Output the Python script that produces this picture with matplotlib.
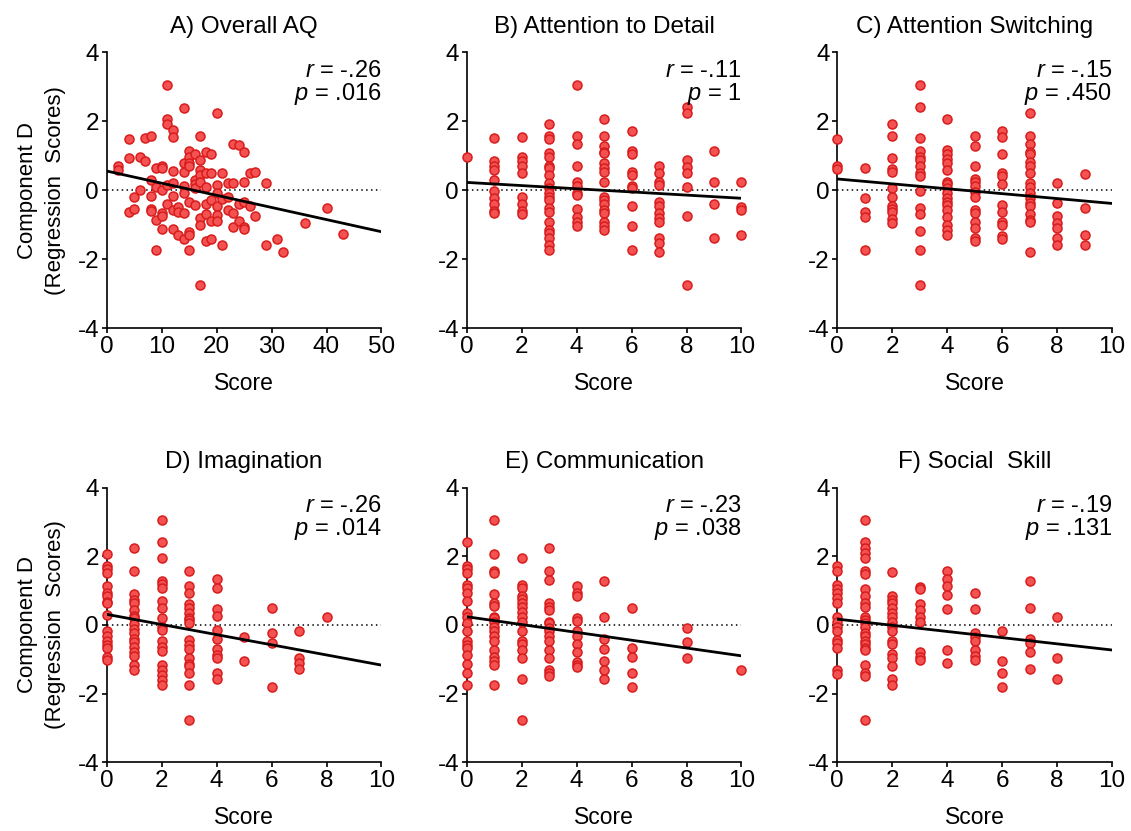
import numpy as np
import matplotlib
matplotlib.use("Agg")
from matplotlib import pyplot as plt

plt.rcParams['font.family'] = ['Liberation Sans', 'DejaVu Sans']
plt.rcParams['mathtext.fontset'] = 'custom'
plt.rcParams['mathtext.it'] = 'Liberation Sans:italic'
plt.rcParams['mathtext.rm'] = 'Liberation Sans'
plt.rcParams['axes.unicode_minus'] = False

# A) Overall AQ - continuous scores
a_x = [2, 2, 4, 4, 4, 5, 5, 6, 6, 7, 7, 8, 8, 8, 8, 8, 9, 9, 9, 9,
       10, 10, 10, 10, 10, 10, 11, 11, 11, 11, 11, 12, 12, 12, 12, 12, 12, 12,
       13, 13, 13, 14, 14, 14, 14, 14, 14, 14, 15, 15, 15, 15, 15, 15, 15, 15,
       16, 16, 16, 16, 16, 17, 17, 17, 17, 17, 17, 17, 17, 18, 18, 18, 18, 18, 18,
       19, 19, 19, 19, 19, 20, 20, 20, 20, 20, 20, 21, 21, 21, 22, 22, 22,
       23, 23, 23, 23, 24, 24, 24, 25, 25, 25, 25, 25, 26, 26, 27, 27,
       29, 29, 31, 32, 36, 40, 43]
a_y = [0.7, 0.6, 1.5, 0.95, -0.64, -0.2, -0.55, 0.97, 0.0, 1.52, 0.84, 1.58, 0.3, -0.17, -0.53, -0.6,
       -1.73, -0.86, 0.65, 0.1,
       0.7, 0.65, 0.0, -0.65, -0.75, -1.13, 3.06, 2.07, 1.92, 0.15, -0.4,
       1.75, 1.55, 0.55, 0.22, -0.17, -0.57, -1.13,
       -0.47, -0.64, -1.3, 2.4, 0.78, 0.52, 0.13, -0.09, -0.67, -1.4,
       1.15, 0.98, 0.78, 0.7, -0.33, -1.2, -1.3, -1.73,
       1.05, 0.3, 0.18, 0.06, -0.43, 1.58, 0.88, 0.59, 0.44, 0.25, -0.81, -1.0, -2.75,
       1.12, 0.5, 0.1, -0.4, -0.7, -1.46,
       1.05, 0.5, -0.28, -0.9, -1.4, 2.23, 0.15, -0.07, -0.45, -0.72, -0.9,
       0.5, -0.25, -1.58, 0.22, -0.18, -0.57,
       1.34, 0.22, -0.67, -1.05, 1.3, -0.4, -0.9, 1.12, 0.25, -0.33, -1.05, -1.13,
       0.5, -0.45, 0.52, -0.75,
       0.22, -1.57, -1.4, -1.8, -0.94, -0.5, -1.28]

# B) Attention to Detail
b_scores = [0, 1, 2, 3, 4, 5, 6, 7, 8, 9, 10]
b_values = [
    [0.98],
    [1.53, 0.85, 0.72, 0.59, 0.30, -0.01, -0.23, -0.40, -0.59, -0.67],
    [1.56, 0.98, 0.85, 0.72, 0.49, -0.18, -0.40, -0.59, -0.70],
    [1.92, 1.58, 1.48, 1.07, 0.98, 0.72, 0.64, 0.44, 0.22, 0.06, -0.09, -0.18, -0.28,
     -0.52, -0.64, -0.93, -1.15, -1.25, -1.39, -1.58, -1.73],
    [3.06, 1.58, 1.33, 0.72, 0.25, 0.14, -0.09, -0.14, -0.54, -0.76, -0.91, -1.02],
    [2.07, 1.58, 1.29, 1.12, 1.07, 0.78, 0.64, 0.52, 0.25, -0.18, -0.28, -0.40, -0.57,
     -0.67, -0.91, -1.02, -1.15],
    [1.72, 1.15, 1.05, 0.54, 0.44, 0.14, 0.06, -0.45, -1.03, -1.73],
    [0.71, 0.49, 0.25, 0.15, -0.35, -0.44, -0.67, -0.81, -0.93, -1.39, -1.52, -1.80],
    [2.41, 2.23, 0.88, 0.69, 0.51, 0.11, -0.74, -2.74],
    [1.15, 0.25, -0.40, -1.39],
    [0.23, -0.49, -0.57, -1.29],
]

# C) Attention Switching
c_scores = [0, 1, 2, 3, 4, 5, 6, 7, 8, 9]
c_values = [
    [1.48, 0.71, 0.61],
    [0.66, -0.23, -0.64, -0.76, -1.73],
    [1.91, 1.58, 0.95, 0.61, 0.54, 0.06, -0.18, -0.44, -0.54, -0.64, -0.83, -0.94],
    [3.06, 2.41, 1.53, 1.15, 0.98, 0.88, 0.72, 0.51, 0.43, -0.01, -0.52, -0.70, -1.17,
     -1.73, -2.74],
    [2.07, 1.17, 1.05, 0.90, 0.78, 0.59, 0.25, 0.17, 0.06, -0.09, -0.23, -0.33, -0.43,
     -0.57, -0.76, -1.00, -1.15, -1.29],
    [1.57, 1.29, 0.72, 0.33, 0.23, 0.13, -0.04, -0.18, -0.57, -0.67, -0.91, -1.10,
     -1.39, -1.46],
    [1.73, 1.56, 1.05, 0.49, 0.43, 0.17, -0.43, -0.64, -0.91, -1.00, -1.32, -1.41],
    [2.23, 1.58, 1.33, 1.12, 1.05, 0.83, 0.72, 0.51, 0.22, 0.09, -0.09, -0.23, -0.38,
     -0.44, -0.70, -0.86, -0.93, -1.80],
    [0.22, -0.38, -0.74, -0.94, -1.08, -1.39, -1.57],
    [0.46, -0.50, -1.29, -1.57],
]

# D) Imagination
d_scores = [0, 1, 2, 3, 4, 5, 6, 7, 8]
d_values = [
    [2.06, 1.73, 1.62, 1.50, 1.14, 0.92, 0.83, 0.68, 0.63, 0.29, -0.19, -0.32, -0.46,
     -0.58, -0.68, -0.92, -1.02],
    [2.25, 1.57, 0.89, 0.73, 0.63, 0.44, 0.27, 0.19, 0.02, -0.12, -0.24, -0.42, -0.51,
     -0.63, -0.78, -0.90, -1.17, -1.31],
    [3.06, 2.41, 1.94, 1.28, 1.18, 1.07, 0.70, 0.49, 0.21, -0.05, -0.15, -0.46, -0.63,
     -0.75, -1.17, -1.31, -1.46, -1.60, -1.75],
    [1.57, 1.14, 0.94, 0.60, 0.49, 0.36, 0.21, 0.13, 0.05, -0.44, -0.58, -0.71, -0.97,
     -1.15, -1.21, -1.39, -1.75, -2.77],
    [1.33, 1.07, 0.47, 0.26, -0.15, -0.42, -0.70, -0.87, -0.97, -1.41, -1.58],
    [-0.34, -1.05],
    [0.49, -0.24, -0.53, -1.82],
    [-0.19, -0.97, -1.12, -1.29],
    [0.24],
]

# E) Communication
e_scores = [0, 1, 2, 3, 4, 5, 6, 8, 10]
e_values = [
    [2.41, 1.73, 1.62, 1.50, 1.17, 1.07, 0.92, 0.71, 0.34, 0.24, 0.07, -0.17, -0.46,
     -0.58, -0.68, -0.87, -1.15, -1.41, -1.75],
    [3.06, 2.06, 1.57, 1.50, 0.89, 0.63, 0.56, 0.24, 0.19, 0.10, -0.05, -0.19, -0.31,
     -0.46, -0.73, -0.92, -1.05, -1.17, -1.75],
    [1.94, 1.17, 1.07, 0.84, 0.75, 0.63, 0.53, 0.39, 0.24, 0.10, -0.17, -0.46, -0.56,
     -0.73, -0.97, -1.58, -2.77],
    [2.23, 1.57, 1.31, 0.63, 0.53, 0.44, 0.10, 0.05, -0.10, -0.19, -0.31, -0.46, -0.73,
     -0.97, -1.31, -1.41, -1.50],
    [1.14, 0.92, 0.85, 0.21, 0.12, -0.17, -0.32, -0.56, -0.78, -1.07, -1.17, -1.23],
    [1.28, 0.24, -0.42, -0.71, -1.05, -1.31, -1.58],
    [0.49, -0.66, -0.94, -1.41, -1.82],
    [-0.10, -0.51, -0.97],
    [-1.31],
]

# F) Social Skill
f_scores = [0, 1, 2, 3, 4, 5, 6, 7, 8]
f_values = [
    [1.73, 1.58, 1.17, 1.04, 0.92, 0.78, 0.63, 0.24, 0.10, -0.05, -0.19, -0.44, -0.53,
     -0.68, -1.31, -1.43],
    [3.06, 2.41, 2.25, 2.09, 1.94, 1.58, 1.48, 1.04, 0.84, 0.63, 0.53, 0.24, 0.15, 0.07,
     -0.05, -0.24, -0.32, -0.46, -0.56, -0.68, -0.73, -1.17, -1.41, -1.48, -2.77],
    [1.55, 0.83, 0.73, 0.63, 0.49, 0.36, 0.24, 0.10, -0.05, -0.19, -0.46, -0.56, -0.85,
     -0.97, -1.21, -1.58, -1.75],
    [1.12, 1.04, 0.60, 0.44, 0.24, 0.10, -0.78, -0.92, -1.02],
    [1.58, 1.33, 1.14, 0.87, 0.46, -0.73, -1.12],
    [0.94, 0.47, -0.24, -0.36, -0.47, -0.73, -0.90, -1.02],
    [-0.19, -1.05, -1.41, -1.82],
    [1.28, 0.50, -0.41, -0.53, -0.78, -1.29],
    [0.22, -0.97, -1.58],
]

titles = ['A) Overall AQ', 'B) Attention to Detail', 'C) Attention Switching',
          'D) Imagination', 'E) Communication', 'F) Social  Skill']
r_vals = ['-.26', '-.11', '-.15', '-.26', '-.23', '-.19']
p_vals = ['.016', '1', '.450', '.014', '.038', '.131']
x_max = [50, 10, 10, 10, 10, 10]
# fitted line: value at x=0 and at x=x_max
line_start = [0.56, 0.23, 0.33, 0.31, 0.24, 0.17]
line_end = [-1.20, -0.23, -0.38, -1.17, -0.90, -0.73]


def expand(scores, values):
    xs = np.repeat(scores, [len(v) for v in values])
    ys = np.concatenate([np.array(v) for v in values])
    return xs, ys


panel_data = [(np.array(a_x), np.array(a_y)),
              expand(b_scores, b_values),
              expand(c_scores, c_values),
              expand(d_scores, d_values),
              expand(e_scores, e_values),
              expand(f_scores, f_values)]

fig = plt.figure(figsize=(11.31, 8.31), dpi=100)
lefts = [0.0943, 0.4126, 0.7403]
bottoms = [0.6049, 0.0827]
heights = [0.3321, 0.3305]

for i in range(6):
    row, col = divmod(i, 3)
    ax = fig.add_axes([lefts[col], bottoms[row], 0.243, heights[row]])
    xs, ys = panel_data[i]
    xm = x_max[i]

    ax.axhline(0, color='black', lw=1.1, ls=(0, (1, 2.2)), zorder=1)
    ax.scatter(xs, ys, s=42, facecolor='#f45252', edgecolor='#d81c1c',
               linewidth=1.1, zorder=3, clip_on=False)
    ax.plot([0, xm], [line_start[i], line_end[i]], color='black', lw=2.0, zorder=4)

    ax.set_xlim(0, xm)
    ax.set_ylim(-4, 4)
    ax.set_yticks([-4, -2, 0, 2, 4])
    if xm == 50:
        ax.set_xticks([0, 10, 20, 30, 40, 50])
    else:
        ax.set_xticks([0, 2, 4, 6, 8, 10])

    for s in ['top', 'right']:
        ax.spines[s].set_visible(False)
    for s in ['left', 'bottom']:
        ax.spines[s].set_linewidth(1.2)
    ax.tick_params(direction='out', length=3.5, width=1.2, labelsize=17.5, pad=2)

    ax.set_title(titles[i], fontsize=17.5, pad=14)
    ax.set_xlabel('Score', fontsize=16.5, labelpad=10)
    if col == 0:
        ax.set_ylabel('Component D\n(Regression  Scores)', fontsize=16, labelpad=8,
                      linespacing=1.45)

    ax.text(xm, 3.28, '$r$ = ' + r_vals[i], ha='right', va='baseline', fontsize=17)
    ax.text(xm, 2.62, '$p$ = ' + p_vals[i], ha='right', va='baseline', fontsize=17)

fig.savefig('out.png', dpi=100)
